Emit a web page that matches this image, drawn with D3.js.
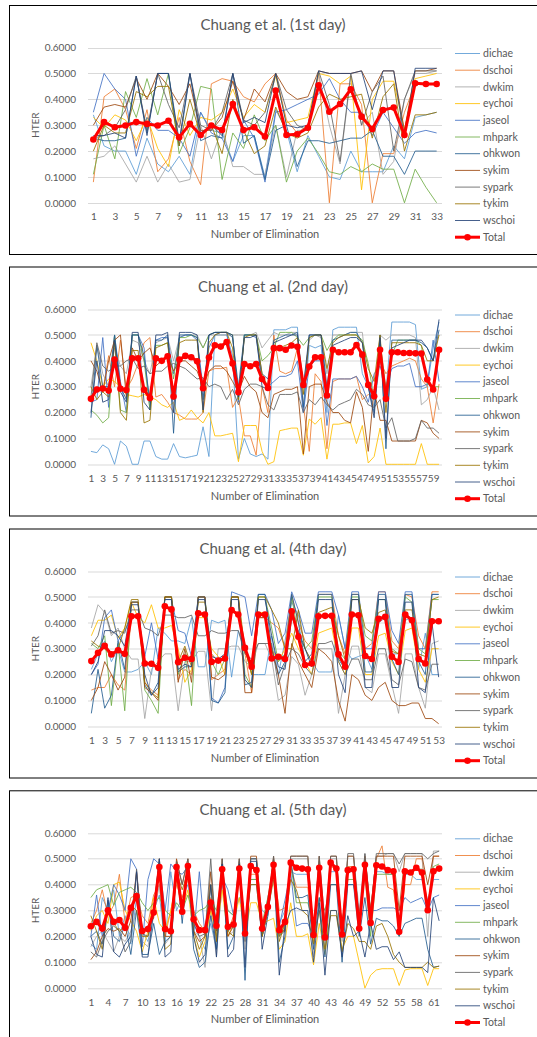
<!DOCTYPE html>
<html>
<head>
<meta charset="utf-8">
<style>
body { margin: 0; background: #fff; }
text { font-family: Lato, "Open Sans", sans-serif; }
</style>
<script src="https://cdn.jsdelivr.net/npm/d3@7"></script>
</head>
<body>
<div id="viz"></div>
<script>

var userNames = ['dichae', 'dschoi', 'dwkim', 'eychoi', 'jaseol', 'mhpark', 'ohkwon', 'sykim', 'sypark', 'tykim', 'wschoi'];
var userColors = ['#5B9BD5', '#ED7D31', '#A5A5A5', '#FFC000', '#4472C4', '#70AD47', '#255E91', '#9E480E', '#636363', '#997300', '#264478'];
var dayTitles = ['Chuang et al. (1st day)', 'Chuang et al. (2nd day)', 'Chuang et al. (4th day)', 'Chuang et al. (5th day)'];
var yTicks = [0, 0.1, 0.2, 0.3, 0.4, 0.5, 0.6];
var labelSteps = [2, 2, 2, 3];

// 1st day, 33 eliminations (same order as userNames)
var day1 = [
  [0.34,0.22,0.20,0.20,0.11,0.25,0.15,0.12,0.18,0.11,0.35,0.28,0.27,0.16,0.26,0.26,0.10,0.36,0.28,0.12,0.26,0.18,0.10,0.09,0.20,0.12,0.12,0.12,0.22,0.17,0.33,0.34,0.35],
  [0.08,0.41,0.44,0.36,0.21,0.36,0.12,0.17,0.33,0.16,0.07,0.46,0.48,0.47,0.41,0.39,0.46,0.50,0.32,0.27,0.30,0.50,0.00,0.46,0.46,0.38,0.00,0.19,0.19,0.35,0.46,0.46,0.46],
  [0.17,0.18,0.22,0.15,0.08,0.18,0.08,0.15,0.08,0.09,0.30,0.17,0.29,0.14,0.14,0.11,0.11,0.30,0.10,0.28,0.28,0.50,0.30,0.15,0.49,0.30,0.35,0.11,0.16,0.40,0.50,0.50,0.51],
  [0.33,0.29,0.34,0.32,0.24,0.33,0.21,0.14,0.36,0.26,0.33,0.32,0.35,0.44,0.33,0.38,0.35,0.49,0.31,0.32,0.33,0.50,0.49,0.46,0.49,0.05,0.40,0.47,0.47,0.28,0.48,0.49,0.50],
  [0.35,0.50,0.44,0.40,0.18,0.33,0.28,0.28,0.25,0.18,0.35,0.27,0.25,0.16,0.32,0.25,0.08,0.35,0.36,0.38,0.40,0.42,0.48,0.40,0.35,0.35,0.26,0.35,0.29,0.23,0.27,0.28,0.27],
  [0.11,0.30,0.17,0.43,0.33,0.48,0.34,0.50,0.19,0.29,0.45,0.44,0.09,0.27,0.21,0.34,0.24,0.30,0.08,0.20,0.25,0.19,0.12,0.11,0.14,0.12,0.15,0.13,0.13,0.00,0.13,0.06,0.00],
  [0.25,0.24,0.24,0.25,0.49,0.27,0.50,0.50,0.22,0.50,0.24,0.26,0.25,0.50,0.23,0.26,0.09,0.28,0.30,0.14,0.24,0.24,0.23,0.24,0.25,0.25,0.28,0.18,0.18,0.11,0.20,0.20,0.20],
  [0.30,0.37,0.38,0.37,0.48,0.40,0.50,0.45,0.38,0.46,0.28,0.28,0.33,0.47,0.32,0.44,0.39,0.50,0.43,0.40,0.41,0.51,0.50,0.50,0.50,0.51,0.43,0.51,0.51,0.28,0.51,0.51,0.52],
  [0.25,0.26,0.29,0.36,0.49,0.28,0.50,0.38,0.29,0.50,0.30,0.28,0.35,0.50,0.32,0.30,0.35,0.50,0.36,0.30,0.28,0.51,0.38,0.16,0.50,0.30,0.43,0.49,0.20,0.40,0.51,0.51,0.51],
  [0.20,0.30,0.27,0.27,0.43,0.41,0.45,0.45,0.22,0.40,0.26,0.30,0.19,0.40,0.28,0.19,0.22,0.37,0.27,0.25,0.27,0.37,0.42,0.40,0.41,0.42,0.25,0.41,0.46,0.20,0.34,0.34,0.35],
  [0.26,0.26,0.27,0.25,0.49,0.26,0.50,0.50,0.24,0.50,0.27,0.30,0.26,0.50,0.31,0.33,0.31,0.50,0.30,0.29,0.30,0.51,0.50,0.50,0.50,0.51,0.36,0.51,0.51,0.25,0.52,0.52,0.52]
];
var total1 = [0.245,0.312,0.292,0.299,0.312,0.305,0.299,0.317,0.253,0.305,0.262,0.299,0.281,0.382,0.281,0.292,0.256,0.434,0.262,0.265,0.290,0.454,0.352,0.382,0.439,0.333,0.285,0.359,0.368,0.262,0.462,0.459,0.459];

// 2nd day, 60 eliminations
var day2 = [
  [0.05,0.045,0.075,0.06,0.00,0.09,0.07,0.00,0.00,0.09,0.09,0.03,0.02,0.02,0.08,0.03,0.025,0.03,0.035,0.145,0.03,0.50,0.50,0.50,0.42,0.02,0.10,0.04,0.03,0.04,0.02,0.52,0.52,0.52,0.53,0.53,0.20,0.46,0.45,0.46,0.20,0.52,0.53,0.53,0.53,0.53,0.35,0.30,0.22,0.40,0.28,0.55,0.55,0.55,0.55,0.54,0.29,0.30,0.45,0.55],
  [0.26,0.30,0.28,0.42,0.30,0.48,0.29,0.33,0.39,0.47,0.49,0.26,0.27,0.24,0.20,0.19,0.175,0.175,0.175,0.20,0.36,0.37,0.37,0.375,0.22,0.26,0.11,0.11,0.035,0.30,0.20,0.50,0.36,0.35,0.36,0.45,0.23,0.05,0.35,0.32,0.06,0.32,0.33,0.33,0.33,0.34,0.25,0.27,0.26,0.40,0.35,0.38,0.39,0.40,0.41,0.40,0.33,0.30,0.16,0.31],
  [0.30,0.46,0.35,0.30,0.45,0.38,0.35,0.48,0.47,0.40,0.35,0.47,0.48,0.49,0.40,0.49,0.50,0.50,0.50,0.45,0.50,0.50,0.50,0.50,0.50,0.50,0.50,0.50,0.51,0.45,0.48,0.51,0.50,0.50,0.51,0.51,0.30,0.48,0.50,0.49,0.35,0.50,0.50,0.50,0.51,0.51,0.51,0.30,0.25,0.50,0.48,0.50,0.50,0.50,0.50,0.49,0.23,0.25,0.30,0.21],
  [0.47,0.40,0.30,0.33,0.32,0.30,0.27,0.265,0.26,0.27,0.26,0.25,0.23,0.22,0.24,0.17,0.18,0.21,0.18,0.16,0.20,0.11,0.11,0.115,0.12,0.01,0.15,0.15,0.15,0.05,0.00,0.01,0.13,0.135,0.14,0.14,0.035,0.175,0.155,0.18,0.02,0.155,0.155,0.16,0.16,0.08,0.15,0.005,0.03,0.14,0.00,0.00,0.00,0.00,0.00,0.00,0.08,0.00,0.00,0.00],
  [0.24,0.25,0.49,0.22,0.50,0.32,0.20,0.50,0.50,0.45,0.21,0.48,0.49,0.49,0.35,0.49,0.50,0.50,0.48,0.30,0.45,0.50,0.51,0.51,0.38,0.24,0.50,0.50,0.49,0.33,0.30,0.32,0.34,0.34,0.35,0.40,0.20,0.38,0.40,0.40,0.15,0.33,0.33,0.33,0.33,0.34,0.30,0.24,0.35,0.38,0.30,0.37,0.38,0.38,0.39,0.30,0.30,0.31,0.48,0.32],
  [0.21,0.19,0.16,0.18,0.50,0.21,0.20,0.50,0.50,0.40,0.21,0.46,0.46,0.47,0.33,0.49,0.49,0.50,0.49,0.45,0.50,0.51,0.51,0.51,0.50,0.25,0.50,0.50,0.50,0.40,0.42,0.45,0.51,0.51,0.51,0.49,0.46,0.49,0.50,0.50,0.44,0.48,0.50,0.50,0.50,0.50,0.48,0.39,0.25,0.48,0.29,0.42,0.48,0.48,0.48,0.48,0.46,0.31,0.30,0.30],
  [0.18,0.46,0.30,0.30,0.50,0.30,0.25,0.50,0.50,0.42,0.24,0.48,0.48,0.50,0.12,0.50,0.50,0.50,0.49,0.25,0.50,0.51,0.51,0.51,0.49,0.30,0.50,0.50,0.50,0.35,0.33,0.48,0.49,0.50,0.50,0.51,0.22,0.50,0.50,0.50,0.30,0.48,0.49,0.50,0.51,0.51,0.47,0.30,0.20,0.50,0.06,0.48,0.48,0.48,0.48,0.48,0.47,0.45,0.40,0.52],
  [0.40,0.36,0.28,0.40,0.48,0.50,0.26,0.45,0.40,0.43,0.45,0.38,0.40,0.42,0.36,0.40,0.40,0.38,0.36,0.30,0.36,0.38,0.38,0.36,0.32,0.28,0.34,0.30,0.28,0.20,0.18,0.27,0.28,0.29,0.29,0.30,0.04,0.30,0.31,0.31,0.24,0.20,0.20,0.17,0.16,0.28,0.22,0.05,0.29,0.17,0.17,0.09,0.09,0.09,0.09,0.09,0.17,0.16,0.12,0.10],
  [0.26,0.47,0.38,0.36,0.38,0.38,0.40,0.41,0.37,0.38,0.35,0.36,0.36,0.38,0.39,0.38,0.37,0.35,0.33,0.335,0.30,0.31,0.30,0.25,0.29,0.23,0.29,0.31,0.31,0.30,0.23,0.21,0.27,0.27,0.27,0.28,0.20,0.25,0.23,0.26,0.23,0.21,0.23,0.24,0.25,0.29,0.27,0.23,0.22,0.25,0.14,0.18,0.09,0.09,0.09,0.10,0.17,0.14,0.14,0.12],
  [0.30,0.25,0.28,0.26,0.47,0.20,0.17,0.44,0.44,0.16,0.17,0.45,0.46,0.47,0.25,0.47,0.48,0.48,0.48,0.20,0.47,0.50,0.51,0.51,0.45,0.25,0.49,0.50,0.50,0.35,0.30,0.44,0.45,0.46,0.47,0.49,0.27,0.49,0.50,0.50,0.37,0.47,0.49,0.50,0.50,0.50,0.47,0.37,0.32,0.50,0.20,0.47,0.47,0.47,0.47,0.47,0.46,0.40,0.40,0.50],
  [0.20,0.40,0.24,0.25,0.48,0.28,0.24,0.51,0.51,0.24,0.21,0.50,0.50,0.51,0.20,0.51,0.51,0.51,0.50,0.21,0.50,0.51,0.51,0.51,0.50,0.26,0.49,0.49,0.50,0.30,0.29,0.47,0.48,0.49,0.50,0.50,0.30,0.50,0.50,0.50,0.26,0.46,0.47,0.48,0.49,0.49,0.47,0.30,0.18,0.49,0.10,0.45,0.46,0.47,0.48,0.48,0.48,0.45,0.40,0.56]
];
var total2 = [0.253,0.289,0.293,0.285,0.405,0.292,0.287,0.410,0.410,0.288,0.256,0.410,0.400,0.418,0.262,0.405,0.419,0.414,0.398,0.294,0.413,0.460,0.455,0.473,0.390,0.279,0.388,0.379,0.388,0.330,0.295,0.449,0.449,0.443,0.459,0.454,0.307,0.378,0.414,0.414,0.266,0.443,0.433,0.433,0.433,0.461,0.424,0.307,0.263,0.443,0.253,0.433,0.433,0.430,0.430,0.429,0.428,0.328,0.289,0.443];

// 4th day, 53 eliminations
var day4 = [
  [0.22,0.28,0.33,0.25,0.30,0.21,0.21,0.22,0.25,0.20,0.38,0.36,0.33,0.33,0.32,0.42,0.23,0.23,0.41,0.40,0.41,0.19,0.37,0.30,0.20,0.20,0.20,0.35,0.20,0.33,0.48,0.43,0.30,0.25,0.21,0.21,0.21,0.43,0.30,0.26,0.27,0.28,0.22,0.40,0.42,0.28,0.28,0.41,0.42,0.22,0.36,0.20,0.20],
  [0.14,0.15,0.15,0.20,0.16,0.14,0.43,0.43,0.17,0.14,0.12,0.50,0.50,0.18,0.22,0.20,0.50,0.50,0.18,0.20,0.22,0.50,0.50,0.28,0.13,0.42,0.42,0.40,0.38,0.30,0.51,0.40,0.33,0.30,0.51,0.51,0.51,0.35,0.28,0.51,0.51,0.30,0.32,0.52,0.52,0.33,0.30,0.51,0.50,0.35,0.30,0.52,0.52],
  [0.38,0.47,0.44,0.35,0.38,0.30,0.26,0.26,0.03,0.22,0.25,0.28,0.28,0.06,0.25,0.25,0.29,0.29,0.06,0.30,0.30,0.31,0.31,0.25,0.23,0.32,0.32,0.26,0.10,0.12,0.27,0.24,0.12,0.20,0.30,0.30,0.30,0.05,0.20,0.31,0.31,0.15,0.13,0.28,0.28,0.16,0.05,0.28,0.28,0.15,0.07,0.32,0.33],
  [0.35,0.41,0.41,0.43,0.34,0.38,0.48,0.42,0.40,0.47,0.38,0.38,0.39,0.30,0.17,0.22,0.42,0.42,0.30,0.27,0.20,0.44,0.44,0.30,0.20,0.44,0.44,0.30,0.25,0.30,0.36,0.30,0.25,0.20,0.36,0.37,0.38,0.25,0.20,0.38,0.38,0.20,0.20,0.35,0.36,0.25,0.20,0.37,0.38,0.22,0.17,0.30,0.30],
  [0.20,0.24,0.42,0.45,0.33,0.37,0.42,0.43,0.27,0.40,0.26,0.49,0.49,0.37,0.36,0.27,0.50,0.50,0.11,0.09,0.15,0.52,0.51,0.50,0.35,0.51,0.51,0.45,0.32,0.36,0.52,0.45,0.36,0.36,0.52,0.52,0.52,0.43,0.30,0.52,0.52,0.30,0.30,0.52,0.52,0.37,0.32,0.52,0.52,0.30,0.30,0.51,0.51],
  [0.32,0.30,0.35,0.08,0.32,0.06,0.48,0.48,0.14,0.10,0.05,0.50,0.50,0.20,0.28,0.08,0.50,0.50,0.25,0.20,0.26,0.50,0.50,0.20,0.15,0.50,0.50,0.38,0.25,0.28,0.50,0.35,0.30,0.33,0.50,0.50,0.50,0.29,0.26,0.50,0.50,0.35,0.33,0.49,0.49,0.30,0.28,0.50,0.48,0.30,0.28,0.49,0.49],
  [0.05,0.22,0.07,0.12,0.33,0.22,0.48,0.48,0.16,0.12,0.17,0.50,0.50,0.21,0.23,0.23,0.50,0.50,0.10,0.09,0.13,0.50,0.50,0.16,0.17,0.51,0.51,0.30,0.20,0.25,0.51,0.40,0.25,0.28,0.51,0.51,0.51,0.26,0.22,0.51,0.51,0.21,0.21,0.51,0.51,0.26,0.20,0.51,0.51,0.25,0.20,0.51,0.51],
  [0.10,0.15,0.25,0.20,0.14,0.19,0.48,0.48,0.15,0.13,0.10,0.50,0.50,0.17,0.30,0.17,0.50,0.50,0.19,0.18,0.20,0.50,0.50,0.13,0.13,0.42,0.42,0.30,0.20,0.05,0.32,0.25,0.20,0.15,0.30,0.28,0.25,0.10,0.02,0.20,0.18,0.12,0.10,0.15,0.17,0.10,0.08,0.08,0.09,0.09,0.03,0.03,0.01],
  [0.31,0.35,0.45,0.36,0.37,0.36,0.45,0.45,0.38,0.37,0.35,0.43,0.43,0.42,0.42,0.43,0.35,0.35,0.37,0.36,0.36,0.37,0.37,0.28,0.26,0.32,0.32,0.32,0.16,0.24,0.30,0.28,0.23,0.20,0.32,0.32,0.33,0.25,0.20,0.26,0.26,0.18,0.18,0.30,0.30,0.18,0.16,0.26,0.25,0.15,0.14,0.24,0.24],
  [0.33,0.31,0.30,0.27,0.30,0.38,0.49,0.49,0.17,0.13,0.11,0.50,0.50,0.25,0.31,0.23,0.48,0.48,0.28,0.25,0.27,0.50,0.50,0.30,0.20,0.50,0.50,0.45,0.40,0.30,0.30,0.45,0.30,0.25,0.44,0.45,0.46,0.35,0.26,0.49,0.49,0.38,0.36,0.44,0.45,0.29,0.28,0.45,0.45,0.28,0.27,0.49,0.50],
  [0.20,0.25,0.37,0.37,0.35,0.31,0.47,0.47,0.20,0.12,0.15,0.49,0.49,0.22,0.24,0.23,0.49,0.49,0.27,0.26,0.28,0.49,0.49,0.18,0.15,0.49,0.49,0.35,0.23,0.22,0.42,0.37,0.30,0.23,0.49,0.49,0.49,0.20,0.13,0.49,0.49,0.15,0.15,0.49,0.49,0.15,0.15,0.48,0.48,0.15,0.13,0.40,0.19]
];
var total4 = [0.252,0.284,0.311,0.278,0.294,0.280,0.425,0.425,0.243,0.242,0.226,0.464,0.452,0.248,0.265,0.260,0.437,0.432,0.249,0.254,0.262,0.449,0.432,0.303,0.230,0.432,0.432,0.262,0.269,0.260,0.445,0.346,0.237,0.243,0.425,0.427,0.427,0.278,0.230,0.432,0.429,0.272,0.260,0.416,0.423,0.269,0.249,0.432,0.410,0.260,0.243,0.406,0.406];

// 5th day, 62 eliminations
var day5 = [
  [0.17,0.15,0.35,0.30,0.38,0.20,0.28,0.17,0.35,0.22,0.18,0.30,0.36,0.17,0.45,0.30,0.35,0.40,0.25,0.20,0.15,0.25,0.15,0.40,0.30,0.28,0.35,0.25,0.42,0.42,0.30,0.28,0.45,0.25,0.30,0.45,0.44,0.44,0.44,0.20,0.45,0.20,0.45,0.45,0.20,0.45,0.45,0.25,0.45,0.25,0.45,0.45,0.44,0.44,0.25,0.44,0.44,0.42,0.42,0.34,0.42,0.42],
  [0.25,0.30,0.38,0.28,0.32,0.44,0.25,0.35,0.36,0.28,0.25,0.36,0.40,0.20,0.30,0.40,0.35,0.42,0.30,0.25,0.22,0.35,0.25,0.45,0.22,0.28,0.46,0.23,0.44,0.44,0.20,0.30,0.46,0.30,0.31,0.47,0.39,0.39,0.39,0.18,0.44,0.20,0.47,0.46,0.20,0.47,0.47,0.22,0.48,0.30,0.50,0.55,0.39,0.38,0.22,0.40,0.40,0.50,0.50,0.30,0.51,0.51],
  [0.16,0.20,0.22,0.18,0.14,0.20,0.18,0.22,0.30,0.18,0.16,0.28,0.40,0.17,0.20,0.42,0.30,0.46,0.22,0.20,0.08,0.30,0.12,0.45,0.20,0.22,0.46,0.15,0.50,0.50,0.20,0.30,0.50,0.20,0.22,0.50,0.50,0.50,0.50,0.12,0.49,0.15,0.50,0.50,0.18,0.51,0.51,0.30,0.52,0.30,0.51,0.51,0.52,0.52,0.45,0.52,0.52,0.52,0.52,0.20,0.53,0.53],
  [0.22,0.28,0.30,0.25,0.40,0.41,0.30,0.26,0.22,0.14,0.22,0.35,0.25,0.22,0.30,0.42,0.30,0.38,0.20,0.12,0.18,0.30,0.20,0.38,0.20,0.25,0.35,0.20,0.33,0.33,0.25,0.26,0.27,0.15,0.18,0.33,0.20,0.20,0.21,0.09,0.25,0.13,0.30,0.30,0.15,0.20,0.20,0.10,0.00,0.05,0.07,0.075,0.075,0.075,0.01,0.07,0.075,0.075,0.075,0.01,0.075,0.075],
  [0.20,0.36,0.20,0.30,0.40,0.36,0.30,0.50,0.46,0.16,0.42,0.50,0.48,0.30,0.48,0.45,0.44,0.47,0.20,0.45,0.20,0.40,0.25,0.43,0.38,0.28,0.45,0.25,0.40,0.40,0.20,0.35,0.45,0.24,0.34,0.45,0.24,0.25,0.25,0.20,0.43,0.25,0.40,0.40,0.25,0.40,0.40,0.30,0.30,0.30,0.30,0.31,0.31,0.31,0.30,0.35,0.33,0.34,0.35,0.30,0.35,0.36],
  [0.35,0.38,0.39,0.40,0.32,0.37,0.38,0.39,0.37,0.33,0.30,0.33,0.35,0.30,0.28,0.33,0.30,0.36,0.28,0.30,0.31,0.34,0.30,0.45,0.30,0.28,0.45,0.25,0.42,0.42,0.25,0.35,0.48,0.20,0.25,0.48,0.33,0.33,0.33,0.25,0.35,0.30,0.40,0.40,0.25,0.42,0.42,0.28,0.43,0.20,0.44,0.44,0.44,0.44,0.20,0.44,0.45,0.46,0.46,0.30,0.47,0.48],
  [0.20,0.22,0.17,0.34,0.20,0.18,0.25,0.13,0.30,0.13,0.13,0.25,0.13,0.18,0.20,0.48,0.25,0.48,0.15,0.08,0.10,0.28,0.15,0.48,0.15,0.20,0.49,0.03,0.50,0.50,0.20,0.30,0.50,0.10,0.20,0.50,0.35,0.35,0.36,0.15,0.35,0.12,0.40,0.40,0.10,0.40,0.40,0.20,0.35,0.17,0.27,0.26,0.26,0.24,0.20,0.25,0.26,0.27,0.27,0.15,0.08,0.085],
  [0.11,0.14,0.20,0.23,0.22,0.23,0.20,0.26,0.45,0.22,0.24,0.27,0.50,0.20,0.20,0.50,0.40,0.50,0.22,0.18,0.20,0.45,0.22,0.50,0.20,0.24,0.50,0.20,0.51,0.51,0.25,0.30,0.51,0.22,0.22,0.51,0.51,0.51,0.51,0.20,0.51,0.20,0.51,0.51,0.20,0.51,0.51,0.25,0.51,0.30,0.51,0.51,0.51,0.51,0.30,0.51,0.51,0.51,0.51,0.40,0.51,0.51],
  [0.14,0.12,0.18,0.22,0.24,0.22,0.14,0.18,0.46,0.21,0.20,0.30,0.50,0.22,0.22,0.49,0.40,0.50,0.25,0.20,0.21,0.50,0.18,0.50,0.22,0.24,0.50,0.18,0.50,0.50,0.20,0.30,0.51,0.20,0.23,0.51,0.51,0.51,0.51,0.21,0.51,0.25,0.51,0.51,0.21,0.52,0.52,0.25,0.52,0.28,0.52,0.52,0.52,0.52,0.48,0.52,0.52,0.52,0.52,0.50,0.52,0.53],
  [0.28,0.22,0.15,0.30,0.25,0.22,0.24,0.32,0.30,0.20,0.20,0.30,0.45,0.15,0.17,0.45,0.38,0.45,0.22,0.15,0.20,0.40,0.18,0.45,0.22,0.20,0.45,0.22,0.40,0.40,0.20,0.30,0.42,0.18,0.25,0.42,0.38,0.30,0.28,0.17,0.30,0.15,0.28,0.28,0.14,0.25,0.23,0.18,0.18,0.15,0.24,0.25,0.20,0.13,0.10,0.08,0.08,0.08,0.08,0.10,0.08,0.085],
  [0.20,0.13,0.12,0.35,0.14,0.12,0.17,0.20,0.45,0.12,0.12,0.30,0.50,0.12,0.14,0.48,0.30,0.48,0.20,0.10,0.13,0.40,0.12,0.48,0.12,0.15,0.48,0.08,0.49,0.49,0.15,0.28,0.48,0.05,0.24,0.30,0.31,0.30,0.30,0.10,0.33,0.05,0.30,0.30,0.12,0.28,0.20,0.22,0.12,0.25,0.15,0.16,0.16,0.11,0.14,0.08,0.08,0.08,0.08,0.06,0.35,0.26]
];
var total5 = [0.239,0.256,0.230,0.301,0.256,0.263,0.233,0.310,0.356,0.221,0.228,0.292,0.468,0.228,0.220,0.468,0.295,0.472,0.266,0.224,0.224,0.331,0.241,0.459,0.237,0.246,0.462,0.211,0.472,0.456,0.230,0.314,0.477,0.224,0.256,0.485,0.465,0.462,0.459,0.205,0.465,0.196,0.485,0.462,0.207,0.456,0.459,0.230,0.477,0.252,0.475,0.470,0.456,0.452,0.218,0.452,0.447,0.465,0.447,0.301,0.452,0.462];

var userData = [day1, day2, day4, day5];
var totalData = [total1, total2, total4, total5];

var width = 537, height = 1037;
var boxTops = [5, 266.5, 528.5, 790.3];
var plotLeft = 88, plotRight = 442;
var textColor = '#595959';

var svg = d3.select('#viz')
    .append('svg')
    .attr('width', width)
    .attr('height', height);

dayTitles.forEach(function(title, i) {
  var g = svg.append('g').attr('transform', 'translate(0,' + boxTops[i] + ')');

  g.append('rect')
    .attr('x', 9.5).attr('y', 0.5)
    .attr('width', 535).attr('height', 249)
    .attr('fill', 'white')
    .attr('stroke', 'black')
    .attr('stroke-width', 1);

  var total = totalData[i];
  var cats = d3.range(1, total.length + 1);

  var x = d3.scalePoint().domain(cats).range([plotLeft, plotRight]).padding(0.5);
  var y = d3.scaleLinear().domain([0, 0.6]).range([197.8, 42.6]);

  // gridlines
  g.append('g').selectAll('line')
    .data(yTicks)
    .enter().append('line')
      .attr('x1', plotLeft).attr('x2', plotRight)
      .attr('y1', function(d) { return Math.round(y(d)) + 0.5; })
      .attr('y2', function(d) { return Math.round(y(d)) + 0.5; })
      .attr('stroke', '#D9D9D9')
      .attr('stroke-width', 1);

  var yAxis = g.append('g')
    .attr('transform', 'translate(' + plotLeft + ',0)')
    .call(d3.axisLeft(y).tickValues(yTicks).tickFormat(d3.format('.4f')).tickSize(0).tickPadding(12));
  yAxis.select('.domain').remove();
  yAxis.attr('font-family', 'Lato, sans-serif').attr('font-size', 10).style('color', textColor);

  var xAxis = g.append('g')
    .attr('transform', 'translate(0,' + y(0) + ')')
    .call(d3.axisBottom(x)
      .tickValues(cats.filter(function(d) { return (d - 1) % labelSteps[i] === 0; }))
      .tickSize(0).tickPadding(10.5));
  xAxis.select('.domain').remove();
  xAxis.attr('font-family', 'Lato, sans-serif').attr('font-size', 10).style('color', textColor);

  // title and axis titles
  g.append('text')
    .attr('x', 273).attr('y', 25)
    .attr('text-anchor', 'middle')
    .attr('font-size', 15)
    .attr('fill', textColor)
    .text(title);

  g.append('text')
    .attr('transform', 'translate(35,' + (y(0) + y(0.6)) / 2 + ') rotate(-90)')
    .attr('text-anchor', 'middle')
    .attr('dy', '0.35em')
    .attr('font-size', 10)
    .attr('fill', textColor)
    .text('HTER');

  g.append('text')
    .attr('x', (plotLeft + plotRight) / 2).attr('y', 233)
    .attr('text-anchor', 'middle')
    .attr('font-size', 11)
    .attr('fill', textColor)
    .text('Number of Elimination');

  var line = d3.line()
    .x(function(d, k) { return x(k + 1); })
    .y(function(d) { return y(d); });

  g.append('g').selectAll('path')
    .data(userData[i])
    .enter().append('path')
      .attr('d', line)
      .attr('fill', 'none')
      .attr('stroke', function(d, k) { return userColors[k]; })
      .attr('stroke-width', 1)
      .attr('stroke-opacity', 0.85)
      .attr('stroke-linejoin', 'round');

  g.append('path')
    .attr('d', line(total))
    .attr('fill', 'none')
    .attr('stroke', '#FF0000')
    .attr('stroke-width', 3)
    .attr('stroke-linejoin', 'round');

  g.append('g').selectAll('circle')
    .data(total)
    .enter().append('circle')
      .attr('cx', function(d, k) { return x(k + 1); })
      .attr('cy', function(d) { return y(d); })
      .attr('r', 3.3)
      .attr('fill', '#FF0000');

  // legend
  var legend = g.append('g');
  var names = userNames.concat(['Total']);
  var colors = userColors.concat(['#FF0000']);
  var items = legend.selectAll('g')
    .data(names)
    .enter().append('g')
      .attr('transform', function(d, k) { return 'translate(0,' + (48.5 + k * 16.7) + ')'; });
  items.append('line')
    .attr('x1', 455).attr('x2', 480)
    .attr('stroke', function(d, k) { return colors[k]; })
    .attr('stroke-opacity', function(d) { return d === 'Total' ? 1 : 0.85; })
    .attr('stroke-width', function(d) { return d === 'Total' ? 3 : 1; });
  items.filter(function(d) { return d === 'Total'; })
    .append('circle')
      .attr('cx', 467.5).attr('r', 3.3).attr('fill', '#FF0000');
  items.append('text')
    .attr('x', 483).attr('dy', '0.35em')
    .attr('font-size', 10.5)
    .attr('fill', textColor)
    .text(function(d) { return d; });
});

</script>
</body>
</html>
